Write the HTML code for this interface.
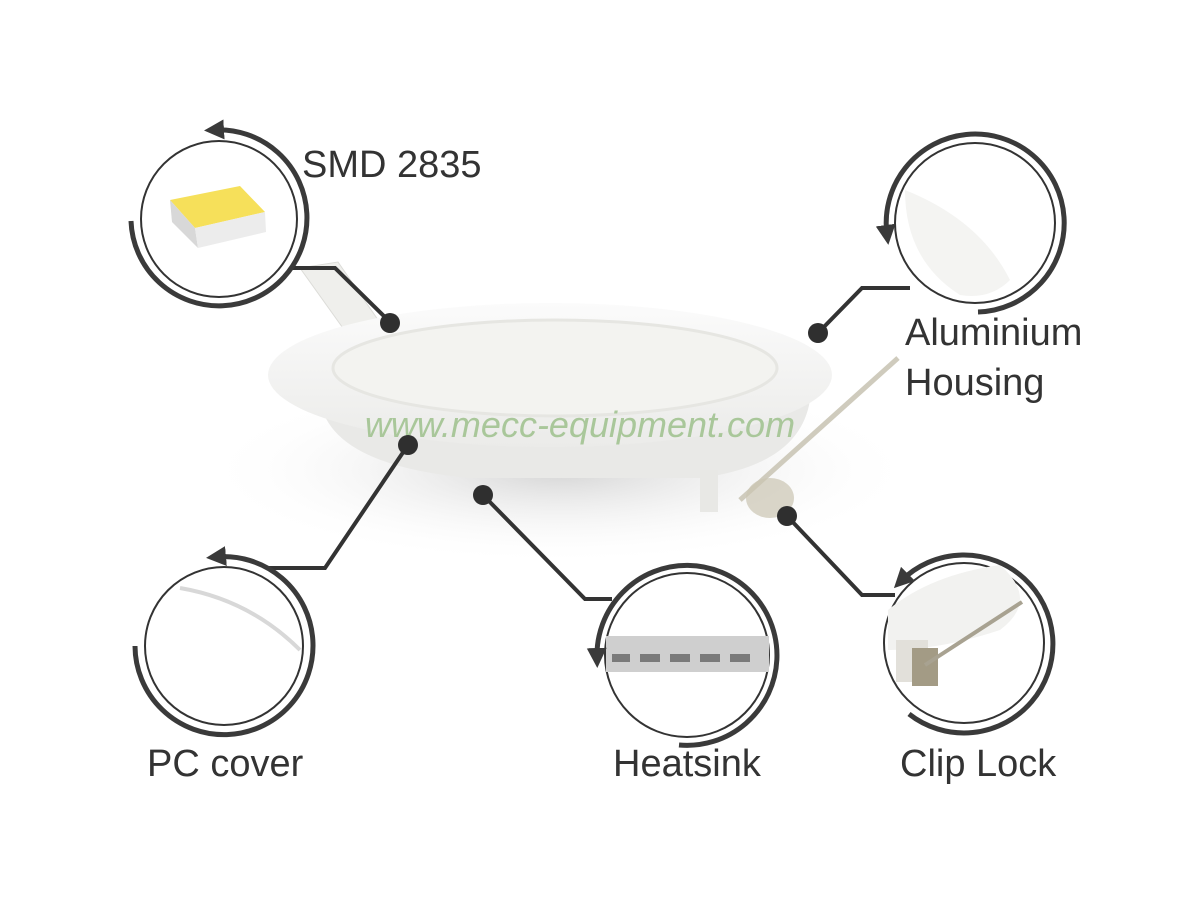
<!DOCTYPE html>
<html><head><meta charset="utf-8"><style>
html,body{margin:0;padding:0;background:#fff;}
svg{display:block;}
text{font-family:"Liberation Sans",sans-serif;fill:#333;}
</style></head><body>
<svg width="1200" height="900" viewBox="0 0 1200 900" xmlns="http://www.w3.org/2000/svg">
<defs>
<radialGradient id="sh" cx="50%" cy="50%" r="50%">
<stop offset="0" stop-color="#d4d4d4"/><stop offset="1" stop-color="#fff" stop-opacity="0"/>
</radialGradient>
<linearGradient id="rim" x1="0" y1="0" x2="0" y2="1">
<stop offset="0" stop-color="#fbfbfb"/><stop offset="1" stop-color="#ebebe9"/>
</linearGradient>
<marker id="ah" viewBox="0 0 10 10" refX="5" refY="5" markerWidth="4" markerHeight="4" orient="auto-start-reverse">
<path d="M0,0 L10,5 L0,10 z" fill="#3a3a3a"/></marker>
</defs>
<!-- shadow -->
<ellipse cx="560" cy="470" rx="360" ry="95" fill="url(#sh)"/>
<!-- clip left -->
<path d="M300,268 L338,262 L385,330 L350,338 Z" fill="#efefec" stroke="#dcdcd8"/>
<!-- body -->
<path d="M320,400 Q330,465 470,478 L700,478 Q800,465 810,400 Z" fill="#e9e9e7"/>
<ellipse cx="550" cy="375" rx="282" ry="72" fill="url(#rim)"/>
<ellipse cx="555" cy="368" rx="222" ry="48" fill="#f3f3f0" stroke="#e6e6e2" stroke-width="3"/>
<!-- clip right -->
<path d="M700,470 L718,470 L718,512 L700,512 Z" fill="#e8e8e5"/>
<path d="M740,500 L898,358" stroke="#cfcbbd" stroke-width="5"/>
<ellipse cx="770" cy="498" rx="24" ry="20" fill="#cbc5b2" opacity=".7"/>
<text x="580" y="437" font-size="36" font-style="italic" text-anchor="middle" style="fill:#a9c79a">www.mecc-equipment.com</text>
<!-- connectors -->
<g stroke="#333" stroke-width="4" fill="none">
<polyline points="290,268 335,268 390,322"/>
<polyline points="818,333 862,288 910,288"/>
<polyline points="408,445 325,568 268,568"/>
<polyline points="483,495 585,599 612,599"/>
<polyline points="787,516 862,595 895,595"/>
</g>
<g fill="#2f2f2f">
<circle cx="390" cy="323" r="10"/><circle cx="818" cy="333" r="10"/>
<circle cx="408" cy="445" r="10"/><circle cx="483" cy="495" r="10"/>
<circle cx="787" cy="516" r="10"/>
</g>
<!-- circles -->
<g fill="#fff" stroke="#333" stroke-width="2">
<circle cx="219" cy="219" r="78"/>
<circle cx="975" cy="223" r="80"/>
<circle cx="224" cy="646" r="79"/>
<circle cx="687" cy="655" r="82"/>
<circle cx="964" cy="643" r="80"/>
</g>
<!-- thumbnails -->
<path d="M170,200 L240,186 L265,212 L195,228 Z" fill="#f6e05a"/>
<path d="M170,200 L195,228 L198,248 L172,222 Z" fill="#d8d8d8"/>
<path d="M195,228 L265,212 L266,232 L198,248 Z" fill="#ececec"/>
<path d="M905,190 Q980,220 1010,280 Q990,300 960,295 Q905,260 905,190Z" fill="#f4f4f2"/>
<path d="M180,588 Q250,600 300,650" stroke="#d8d8d8" stroke-width="4" fill="none"/>
<rect x="606" y="636" width="163" height="36" fill="#cfcfcf"/>
<g fill="#7a7a7a"><rect x="612" y="654" width="18" height="8"/><rect x="640" y="654" width="20" height="8"/><rect x="670" y="654" width="20" height="8"/><rect x="700" y="654" width="20" height="8"/><rect x="730" y="654" width="20" height="8"/></g>
<path d="M888,610 Q930,575 1000,565 Q1040,600 1000,630 Q940,650 888,650 Z" fill="#f2f2f0"/>
<rect x="896" y="640" width="32" height="42" fill="#e2e0da"/>
<rect x="912" y="648" width="26" height="38" fill="#a39b85"/>
<path d="M925,665 L1022,602" stroke="#a8a291" stroke-width="4"/>
<!-- outer arcs -->
<g stroke="#3a3a3a" stroke-width="5" fill="none">
<path d="M214,130 A88,88 0 1 1 131,221" marker-start="url(#ah)"/>
<path d="M887,235 A89,89 0 1 1 978,312" marker-start="url(#ah)"/>
<path d="M216,557 A89,89 0 1 1 135,646" marker-start="url(#ah)"/>
<path d="M597,658 A90,90 0 1 1 679,745" marker-start="url(#ah)"/>
<path d="M901,581 A89,89 0 1 1 909,714" marker-start="url(#ah)"/>
</g>
<!-- labels -->
<g font-size="38">
<text x="302" y="177">SMD 2835</text>
<text x="905" y="345">Aluminium</text>
<text x="905" y="395">Housing</text>
<text x="147" y="776">PC cover</text>
<text x="613" y="776">Heatsink</text>
<text x="900" y="776">Clip Lock</text>
</g>
</svg>
</body></html>
